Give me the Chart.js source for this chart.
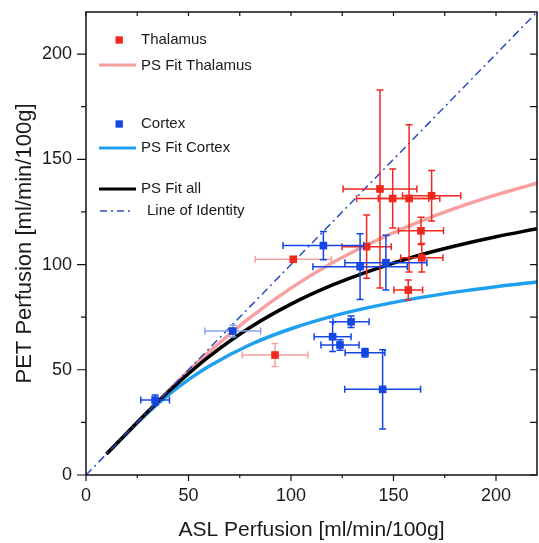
<!DOCTYPE html>
<html>
<head>
<meta charset="utf-8">
<script src="https://cdn.jsdelivr.net/npm/chart.js@4.4.1/dist/chart.umd.min.js"></script>
<style>
  html, body { margin: 0; padding: 0; background: #fff; }
</style>
</head>
<body>
<canvas id="c" width="539" height="543"></canvas>
<script>
// Thalamus measurements (ASL vs PET) with errors
const thalX = [143.4, 149.6, 157.6, 168.6, 163.4, 163.8, 136.9, 157.2, 101.1, 92.2];
const thalY = [135.9, 131.4, 131.4, 132.7, 116.0, 103.2, 108.5, 87.9, 102.5, 57.0];
const thalXErr = [18, 17.6, 15, 14.2, 11, 10.3, 12, 7, 18.6, 16];
const thalYErr = [47, 14, 35, 12, 6.5, 6.8, 15, 4.8, 1, 5.5];

// Cortex measurements
const ctxX = [115.8, 133.7, 146.3, 129.3, 120.3, 123.9, 136.1, 144.7, 71.6, 33.7];
const ctxY = [109.0, 99.0, 100.9, 72.8, 65.7, 61.8, 58.1, 40.7, 68.4, 35.6];
const ctxXErr = [19.7, 23, 20, 8.8, 9, 9.3, 9.7, 18.5, 13.6, 7];
const ctxYErr = [6.7, 15.6, 13, 2.7, 7, 2.5, 2, 18.8, 2.8, 2.4];

// fitted curves
const fitX = [10, 20, 30, 40, 50, 60, 80, 100, 120, 140, 160, 180, 200, 220];
const fitThal = [10.0, 20.0, 30.0, 39.8, 49.4, 58.4, 74.8, 88.8, 100.7, 110.7, 119.3, 126.7, 133.1, 138.7];
const fitCortex = [10.0, 19.9, 29.4, 37.9, 45.3, 51.7, 61.9, 69.5, 75.4, 80.0, 83.8, 86.9, 89.5, 91.7];
const fitAll = [10.0, 20.0, 29.9, 39.4, 48.2, 56.3, 70.1, 81.2, 90.2, 97.5, 103.7, 108.8, 113.2, 117.0];
const identX = [0, 220];
const identY = [0, 220];

const axisMin = 0, axisMax = 220;

const RED = "#f0281e", RED_LIGHT = "#f5a3a0", PINK = "#f6a0a0";
const BLUE = "#1446e6", BLUE_LIGHT = "#8aa4ee", SKY = "#1ea0ee";
const IDENT = "#2a4cc0";
const FONT = "'Liberation Sans', Arial, sans-serif";
const fadedThal = [8, 9];
const fadedCtx = [8];

const pts = (xs, ys) => xs.map((x, i) => ({ x, y: ys[i] }));

const errorBars = {
  id: "errorBars",
  beforeDatasetDraw(chart, args) {
    const ds = chart.data.datasets[args.index];
    if (!ds.errX) return;
    const { ctx } = chart;
    const sx = chart.scales.x, sy = chart.scales.y;
    const cap = 3.5;
    ctx.save();
    ctx.lineWidth = 1.5;
    ds.data.forEach((p, i) => {
      ctx.strokeStyle = ds.faded.includes(i) ? ds.lightColor : ds.backgroundColor;
      const cx = sx.getPixelForValue(p.x), cy = sy.getPixelForValue(p.y);
      const xl = sx.getPixelForValue(p.x - ds.errX[i]);
      const xr = sx.getPixelForValue(p.x + ds.errX[i]);
      const yt = sy.getPixelForValue(p.y + ds.errY[i]);
      const yb = sy.getPixelForValue(p.y - ds.errY[i]);
      ctx.beginPath();
      ctx.moveTo(xl, cy); ctx.lineTo(xr, cy);
      ctx.moveTo(xl, cy - cap); ctx.lineTo(xl, cy + cap);
      ctx.moveTo(xr, cy - cap); ctx.lineTo(xr, cy + cap);
      if (ds.errY[i] > 1.5) {
        ctx.moveTo(cx, yt); ctx.lineTo(cx, yb);
        ctx.moveTo(cx - cap, yt); ctx.lineTo(cx + cap, yt);
        ctx.moveTo(cx - cap, yb); ctx.lineTo(cx + cap, yb);
      }
      ctx.stroke();
    });
    ctx.restore();
  },
};

const frame = {
  id: "frame",
  afterDraw(chart) {
    const { ctx, chartArea: a } = chart;
    const sx = chart.scales.x, sy = chart.scales.y;
    ctx.save();
    ctx.strokeStyle = "#111";
    ctx.lineWidth = 1.5;
    ctx.strokeRect(a.left, a.top, a.right - a.left, a.bottom - a.top);
    ctx.lineWidth = 1.2;
    ctx.beginPath();
    sx.ticks.forEach((t) => {
      if (t.value % 25 !== 0) return;
      const px = sx.getPixelForValue(t.value);
      const major = t.value % 50 === 0;
      ctx.moveTo(px, a.bottom); ctx.lineTo(px, a.bottom + (major ? 6 : 3));
      ctx.moveTo(px, a.top); ctx.lineTo(px, a.top + 4);
    });
    sy.ticks.forEach((t) => {
      if (t.value % 25 !== 0) return;
      const py = sy.getPixelForValue(t.value);
      const major = t.value % 50 === 0;
      ctx.moveTo(a.left, py); ctx.lineTo(a.left - (major ? 9 : 5), py);
      ctx.moveTo(a.right, py); ctx.lineTo(a.right - 7, py);
    });
    ctx.stroke();

    // legend
    ctx.font = "15px " + FONT;
    ctx.textBaseline = "middle";
    const tx = 141;
    const sq = (y, c) => { ctx.fillStyle = c; ctx.fillRect(115.5, y - 3.7, 7.4, 7.4); };
    const ln = (y, c, w) => {
      ctx.beginPath();
      ctx.strokeStyle = c; ctx.lineWidth = w;
      ctx.moveTo(99, y); ctx.lineTo(136, y); ctx.stroke();
    };
    const label = (t, x, y) => { ctx.fillStyle = "#1a1a1a"; ctx.fillText(t, x, y); };
    sq(40, RED); label("Thalamus", tx, 40);
    ln(65, PINK, 3); label("PS Fit Thalamus", tx, 66);
    sq(124, BLUE); label("Cortex", tx, 124);
    ln(148, SKY, 3); label("PS Fit Cortex", tx, 148);
    ln(189, "#000", 3); label("PS Fit all", tx, 189);
    ctx.beginPath();
    ctx.strokeStyle = IDENT; ctx.lineWidth = 1.5; ctx.setLineDash([7, 4, 2, 4]);
    ctx.moveTo(100, 211); ctx.lineTo(134, 211); ctx.stroke();
    ctx.setLineDash([]);
    label("Line of Identity", 147, 211);
    ctx.restore();
  },
};

const tickCb = (v) => (v % 50 === 0 ? v : "");

new Chart(document.getElementById("c"), {
  type: "scatter",
  data: {
    datasets: [
      {
        label: "Cortex",
        data: pts(ctxX, ctxY),
        errX: ctxXErr, errY: ctxYErr, faded: fadedCtx, lightColor: BLUE_LIGHT,
        backgroundColor: BLUE, borderColor: BLUE, borderWidth: 0,
        pointStyle: "rect", pointRadius: 5.4,
      },
      {
        label: "Thalamus",
        data: pts(thalX, thalY),
        errX: thalXErr, errY: thalYErr, faded: fadedThal, lightColor: RED_LIGHT,
        backgroundColor: RED, borderColor: RED, borderWidth: 0,
        pointStyle: "rect", pointRadius: 5.4,
      },
      {
        type: "line", label: "Line of Identity",
        data: pts(identX, identY),
        borderColor: IDENT, borderWidth: 1.5, borderDash: [8, 4, 2, 4],
        pointRadius: 0, fill: false,
      },
      {
        type: "line", label: "PS Fit all",
        data: pts(fitX, fitAll),
        borderColor: "#000", borderWidth: 3.5, pointRadius: 0,
        cubicInterpolationMode: "monotone", fill: false,
      },
      {
        type: "line", label: "PS Fit Thalamus",
        data: pts(fitX, fitThal),
        borderColor: PINK, borderWidth: 3.5, pointRadius: 0,
        cubicInterpolationMode: "monotone", fill: false,
      },
      {
        type: "line", label: "PS Fit Cortex",
        data: pts(fitX, fitCortex),
        borderColor: SKY, borderWidth: 3.5, pointRadius: 0,
        cubicInterpolationMode: "monotone", fill: false,
      },
    ],
  },
  options: {
    responsive: false,
    animation: false,
    devicePixelRatio: 1,
    layout: { autoPadding: false, padding: { top: 12, right: 2, left: 0, bottom: 0 } },
    plugins: { legend: { display: false }, tooltip: { enabled: false } },
    scales: {
      x: {
        type: "linear", min: axisMin, max: axisMax,
        afterFit: (s) => { s.height = 68; s.paddingLeft = 0; s.paddingRight = 0; },
        border: { display: false },
        grid: { display: false, drawTicks: true, tickLength: 6 },
        ticks: {
          stepSize: 25, includeBounds: false, autoSkip: false, maxRotation: 0,
          callback: tickCb, padding: 4, color: "#1a1a1a",
          font: { size: 18, family: FONT },
        },
        title: {
          display: true, text: "ASL Perfusion [ml/min/100g]", color: "#1a1a1a",
          font: { size: 21, family: FONT }, padding: { top: 0, bottom: 0 },
        },
      },
      y: {
        type: "linear", min: axisMin, max: axisMax,
        afterFit: (s) => { s.width = 86; s.paddingTop = 0; s.paddingBottom = 0; },
        border: { display: false },
        grid: { display: false, drawTicks: true, tickLength: 9 },
        ticks: {
          stepSize: 25, includeBounds: false, autoSkip: false,
          callback: tickCb, padding: 5, color: "#1a1a1a",
          font: { size: 18, family: FONT },
        },
        title: {
          display: true, text: "PET Perfusion [ml/min/100g]", color: "#1a1a1a",
          font: { size: 22, family: FONT }, padding: { top: 12, bottom: 0 },
        },
      },
    },
  },
  plugins: [errorBars, frame],
});
</script>
</body>
</html>
